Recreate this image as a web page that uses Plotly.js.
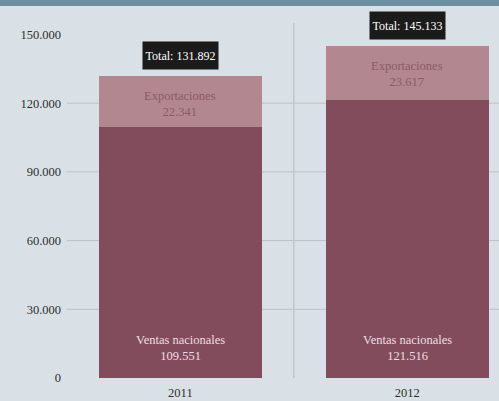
<!DOCTYPE html>
<html>
<head>
<meta charset="utf-8">
<script src="https://cdn.plot.ly/plotly-3.0.1.min.js"></script>
<style>html,body{margin:0;padding:0;background:#d9e1e7;}#chart{width:499px;height:401px;}</style>
</head>
<body>
<div id="chart"></div>
<script>
var years = ['2011', '2012'];
var ventasNacionales = [109551, 121516];
var exportaciones = [22341, 23617];
var totales = [131892, 145133];
var yTicks = [0, 30000, 60000, 90000, 120000, 150000];
var gridVals = [30000, 60000, 90000, 120000];

function fmt(n) {
  return String(n).replace(/\B(?=(\d{3})+(?!\d))/g, '.');
}

var FONT = 'Liberation Serif';

var traces = [
  {type: 'bar', x: years, y: ventasNacionales, name: 'Ventas nacionales',
   marker: {color: '#834c5c', line: {width: 0}}, width: 0.72, hoverinfo: 'none'},
  {type: 'bar', x: years, y: exportaciones, name: 'Exportaciones',
   marker: {color: '#b2878f', line: {width: 0}}, width: 0.72, hoverinfo: 'none'}
];

var annotations = [];
var shapes = [];
for (var i = 0; i < years.length; i++) {
  annotations.push({x: i, y: totales[i], xref: 'x', yref: 'y', yanchor: 'bottom', yshift: 6,
    text: 'Total: ' + fmt(totales[i]), showarrow: false, bgcolor: '#1b1b1b',
    width: 71, height: 23, borderpad: 2, valign: 'middle',
    font: {family: FONT, size: 12, color: '#ffffff'}});
  annotations.push({x: i, y: totales[i], xref: 'x', yref: 'y', yanchor: 'top', yshift: -11,
    text: 'Exportaciones<br>' + fmt(exportaciones[i]), showarrow: false,
    font: {family: FONT, size: 12.5, color: '#8d5a68'}});
  annotations.push({x: i, y: 0, xref: 'x', yref: 'y', yanchor: 'bottom', yshift: 13,
    text: 'Ventas nacionales<br>' + fmt(ventasNacionales[i]), showarrow: false,
    font: {family: FONT, size: 12.5, color: '#eddfe3'}});
}
gridVals.forEach(function (v) {
  shapes.push({type: 'line', xref: 'paper', yref: 'y', x0: 0, x1: 1, y0: v, y1: v,
    line: {color: '#bcc1c6', width: 1}, layer: 'below'});
});
shapes.push({type: 'line', xref: 'x', yref: 'paper', x0: 0.5, x1: 0.5, y0: 0, y1: 1,
  line: {color: '#c2c7cc', width: 1.5}, layer: 'below'});
shapes.push({type: 'rect', xref: 'paper', yref: 'paper', x0: -0.2, x1: 1.05, y0: 1.048, y1: 1.08,
  fillcolor: '#6b8fa1', line: {width: 0}, layer: 'above'});

var layout = {
  width: 499, height: 401,
  margin: {l: 67, r: 0, t: 23, b: 23, pad: 0},
  paper_bgcolor: '#d9e1e7', plot_bgcolor: '#d9e1e7',
  barmode: 'stack', showlegend: false,
  separators: ',.',
  font: {family: FONT, size: 12.5, color: '#2e2e2e'},
  xaxis: {type: 'category', range: [-0.5, 1.405], showgrid: false, zeroline: false,
    showline: false, ticks: '', ticklabelstandoff: 5,
    tickfont: {family: FONT, size: 12.5, color: '#2e2e2e'}, fixedrange: true},
  yaxis: {range: [0, 155000], tickvals: yTicks, ticktext: yTicks.map(fmt), showgrid: false,
    zeroline: false, showline: false, ticks: '', ticklabelstandoff: 5,
    tickfont: {family: FONT, size: 12.5, color: '#2e2e2e'}, fixedrange: true},
  annotations: annotations,
  shapes: shapes
};

Plotly.newPlot('chart', traces, layout, {displayModeBar: false});
</script>
</body>
</html>
